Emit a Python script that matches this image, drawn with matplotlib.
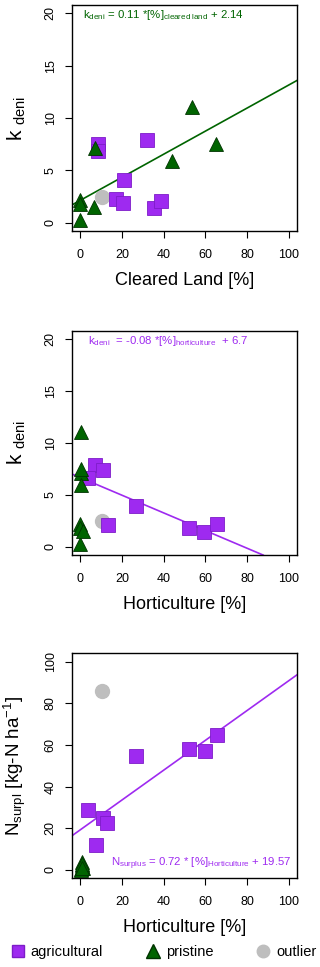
import matplotlib
matplotlib.use('Agg')
import matplotlib.pyplot as plt
from matplotlib.lines import Line2D

plt.rcParams['font.family'] = ['Liberation Sans', 'DejaVu Sans']
plt.rcParams['mathtext.fontset'] = 'custom'
plt.rcParams['mathtext.rm'] = 'Liberation Sans'
plt.rcParams['mathtext.it'] = 'Liberation Sans'

PURPLE, GREEN, GREY = '#9E2AF0', '#006400', '#BEBEBE'

# Panel 1: cleared land vs k_deni
agr_cleared = [8.7, 8.7, 31.9, 20.9, 17.2, 20.4, 35.4, 38.5]
agr_kdeni1 = [7.5, 6.8, 7.9, 4.1, 2.3, 1.9, 1.4, 2.1]
pri_cleared = [0, 0, 0, 6.4, 7.2, 44, 53.5, 65]
pri_kdeni = [2.2, 1.8, 0.3, 1.5, 7.1, 5.9, 11.0, 7.5]
out_cleared, out_kdeni = [10.5], [2.5]

# Panel 2: horticulture vs k_deni
agr_hort = [7, 11, 3.5, 13.5, 26.5, 52, 59.5, 65.5]
agr_kdeni2 = [7.9, 7.4, 6.6, 2.1, 3.9, 1.8, 1.4, 2.2]
pri_hort = [0, 0, 0, 1.5, 0.3, 0.5, 0.3, 0.5]
out_hort = [10.5]

# Panel 3: horticulture vs N surplus
agr_hort3 = [3.5, 7.5, 11, 13, 26.5, 52, 60, 65.5]
agr_nsurp = [29, 12, 25, 22.5, 54.5, 58, 57, 65]
pri_hort3 = [1, 1, 1, 0.5, 1.5, 0.5, 1, 1]
pri_nsurp = [4, 2.5, 1.5, 0.5, 1, 0.2, 3, 0.8]
out_nsurp = [86]

fits = [(0.11, 2.14, GREEN), (-0.085, 6.66, PURPLE), (0.715, 19.3, PURPLE)]

fig = plt.figure(figsize=(3.2, 9.67), dpi=100)
boxes = [[0.225, 0.761, 0.703, 0.234],
         [0.225, 0.426, 0.703, 0.232],
         [0.225, 0.0917, 0.703, 0.2327]]

panels = [
    (agr_cleared, agr_kdeni1, pri_cleared, pri_kdeni, out_cleared, out_kdeni),
    (agr_hort, agr_kdeni2, pri_hort, pri_kdeni, out_hort, out_kdeni),
    (agr_hort3, agr_nsurp, pri_hort3, pri_nsurp, out_hort, out_nsurp),
]
xlabels = ['Cleared Land [%]', 'Horticulture [%]', 'Horticulture [%]']
ylabels = [r'k $_{\mathregular{deni}}$', r'k $_{\mathregular{deni}}$',
           r'N$_{\mathregular{surpl}}$ [kg-N ha$^{\mathregular{-1}}$]']
ysize = [15, 15, 13.5]
ymax = [20, 20, 100]
ystep = [5, 5, 20]

for i, (ax_box, data) in enumerate(zip(boxes, panels)):
    ax = fig.add_axes(ax_box)
    ax1x, ax1y, prx, pry, ox, oy = data
    ax.plot(ox, oy, 'o', ms=10, color=GREY, mec=GREY, zorder=3)
    ax.plot(ax1x, ax1y, 's', ms=9.5, color=PURPLE, mec='#7D1CC8', mew=0.6, zorder=3)
    ax.plot(prx, pry, '^', ms=10.5, color=GREEN, mec='#003300', mew=0.6, zorder=4)
    m, b, c = fits[i]
    ax.axline((0, b), slope=m, color=c, lw=1.2, zorder=2)
    ax.set_xlim(-4, 104)
    ax.set_ylim(-0.04 * ymax[i], 1.04 * ymax[i])
    ax.set_xticks(range(0, 101, 20))
    ax.set_yticks(range(0, ymax[i] + 1, ystep[i]))
    ax.tick_params(length=5, width=0.8, labelsize=9)
    ax.tick_params(axis='x', pad=8)
    ax.tick_params(axis='y', pad=6)
    for lab in ax.get_yticklabels():
        lab.set_rotation(90)
        lab.set_va('center')
    for s in ax.spines.values():
        s.set_linewidth(1.0)
    ax.set_xlabel(xlabels[i], fontsize=13, labelpad=8)
    ax.set_ylabel(ylabels[i], fontsize=ysize[i], labelpad=12)

axes = fig.axes
axes[0].text(0.05, 0.955, r'k$_{\mathregular{deni}}$ = 0.11 *[%]$_{\mathregular{cleared\ land}}$ + 2.14',
             transform=axes[0].transAxes, color=GREEN, fontsize=8.2, va='center')
axes[1].text(0.07, 0.955, r'k$_{\mathregular{deni}}$  = -0.08 *[%]$_{\mathregular{horticulture}}$  + 6.7',
             transform=axes[1].transAxes, color=PURPLE, fontsize=8.2, va='center')
axes[2].text(0.975, 0.065, r'N$_{\mathregular{surplus}}$ = 0.72 * [%]$_{\mathregular{Horticulture}}$ + 19.57',
             transform=axes[2].transAxes, color=PURPLE, fontsize=8.2, va='center', ha='right')

handles = [
    Line2D([], [], ls='none', marker='s', ms=8, color=PURPLE, mec='#7D1CC8', label='agricultural'),
    Line2D([], [], ls='none', marker='^', ms=10, color=GREEN, mec='#003300', label='pristine'),
    Line2D([], [], ls='none', marker='o', ms=9, color=GREY, mec=GREY, label='outlier'),
]
fig.legend(handles=handles, loc='center', bbox_to_anchor=(0.51, 0.015), ncol=3,
           frameon=False, fontsize=10.5, handletextpad=0.4, columnspacing=2.9,
           handlelength=1.0, borderaxespad=0)

fig.savefig('out.png', dpi=100)
